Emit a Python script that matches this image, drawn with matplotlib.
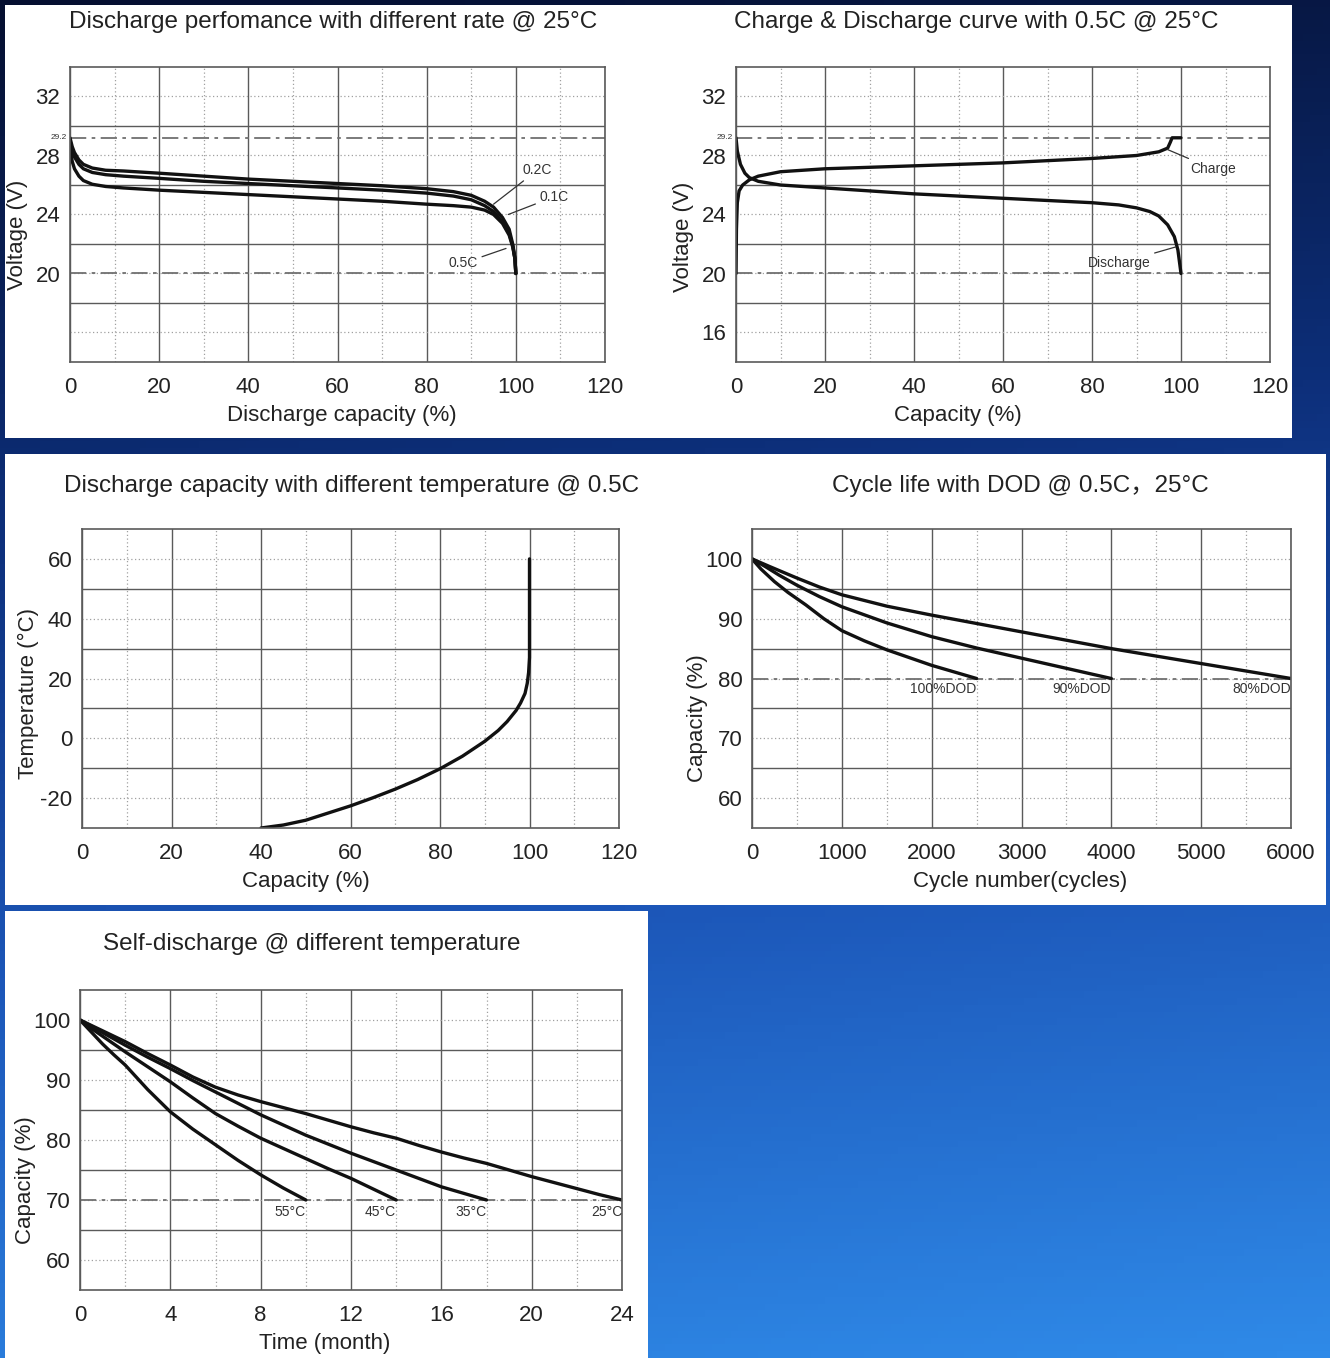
import numpy as np
import matplotlib.pyplot as plt
from matplotlib.patches import Rectangle
from matplotlib.colors import LinearSegmentedColormap

plt.rcParams['font.family'] = ['Liberation Sans', 'Noto Sans CJK SC', 'DejaVu Sans']
plt.rcParams['axes.unicode_minus'] = False

W, H = 1330, 1358

# --- discharge at different rates (capacity %, voltage V)
rate_cap = [0, 0.5, 1, 2, 3, 5, 8, 12, 20, 30, 40, 50, 60, 70, 80, 86, 90, 93, 95, 97, 98.5, 99.3, 99.8, 100]
v_02c = [29.2, 28.6, 28.2, 27.7, 27.4, 27.15, 27.0, 26.95, 26.8, 26.6, 26.4, 26.25, 26.1, 25.95, 25.75,
         25.55, 25.3, 24.9, 24.5, 23.8, 23.0, 22.0, 21.0, 20.0]
v_01c = [29.0, 28.3, 27.9, 27.4, 27.1, 26.85, 26.7, 26.6, 26.45, 26.25, 26.1, 25.95, 25.8, 25.65, 25.45,
         25.25, 25.0, 24.6, 24.2, 23.5, 22.7, 21.9, 21.0, 20.0]
v_05c = [28.6, 27.6, 27.1, 26.6, 26.3, 26.05, 25.9, 25.8, 25.65, 25.5, 25.35, 25.2, 25.05, 24.9, 24.7,
         24.6, 24.5, 24.3, 24.0, 23.4, 22.6, 21.8, 21.0, 20.0]

# --- charge / discharge at 0.5C
chg_cap = [0, 0.1, 0.3, 0.7, 1.5, 3, 5, 10, 20, 40, 60, 80, 90, 95, 97, 97.6, 98, 100]
chg_v = [20.0, 23.0, 24.8, 25.6, 26.0, 26.35, 26.6, 26.9, 27.1, 27.3, 27.5, 27.8, 28.0, 28.25, 28.5, 28.9, 29.2, 29.2]
dis_cap = [0, 0.3, 1, 2, 3, 5, 10, 20, 40, 60, 80, 86, 90, 93, 95, 97, 98.5, 99.3, 100]
dis_v = [29.2, 28.3, 27.4, 26.8, 26.5, 26.25, 26.0, 25.8, 25.4, 25.1, 24.8, 24.65, 24.45, 24.2, 23.9, 23.3, 22.5, 21.6, 20.0]

# --- capacity vs temperature
temp_cap = [40, 45, 50, 55, 60, 65, 70, 75, 80, 85, 90, 93, 95, 97, 98, 99, 99.5, 99.8, 100, 100]
temp_c = [-30, -29.0, -27.4, -25.0, -22.6, -19.9, -17.0, -13.8, -10.2, -6.0, -1.0, 2.6, 5.6, 9.3, 11.8, 15.0,
          18.4, 22.0, 27.0, 60.0]

# --- cycle life with DOD
cyc100 = [0, 100, 250, 400, 600, 800, 1000, 1250, 1500, 2000, 2500]
dod100 = [100, 98.3, 96.2, 94.4, 92.3, 90.0, 88.0, 86.3, 84.8, 82.2, 80.0]
cyc90 = [0, 150, 300, 500, 750, 1000, 1500, 2000, 2500, 3000, 3500, 4000]
dod90 = [100, 98.7, 97.3, 95.6, 93.7, 92.0, 89.3, 87.0, 85.1, 83.4, 81.7, 80.0]
cyc80 = [0, 200, 500, 750, 1000, 1500, 2000, 2500, 3000, 3500, 4000, 5000, 6000]
dod80 = [100, 98.7, 96.8, 95.3, 94.0, 92.1, 90.6, 89.2, 87.8, 86.4, 85.0, 82.5, 80.0]

# --- self discharge (month, capacity %)
m55 = [0, 0.5, 1, 1.5, 2, 3, 4, 5, 6, 7, 8, 9, 10]
sd55 = [100, 98.0, 96.0, 94.2, 92.5, 88.4, 84.7, 81.8, 79.2, 76.6, 74.2, 72.0, 70.0]
m45 = [0, 0.5, 1, 1.5, 2, 3, 4, 5, 6, 7, 8, 9, 10, 11, 12, 13, 14]
sd45 = [100, 98.6, 97.3, 96.0, 94.7, 92.2, 89.7, 87.0, 84.4, 82.3, 80.3, 78.6, 76.9, 75.2, 73.6, 71.8, 70.0]
m35 = [0, 1, 2, 3, 4, 5, 6, 7, 8, 9, 10, 11, 12, 13, 14, 15, 16, 17, 18]
sd35 = [100, 97.9, 95.8, 93.8, 91.9, 89.9, 88.0, 86.1, 84.2, 82.5, 80.8, 79.3, 77.8, 76.4, 75.0, 73.6, 72.2, 71.1, 70.0]
m25 = [0, 1, 2, 3, 4, 5, 6, 7, 8, 9, 10, 11, 12, 13, 14, 15, 16, 17, 18, 19, 20, 21, 22, 23, 24]
sd25 = [100, 98.2, 96.4, 94.4, 92.5, 90.5, 88.8, 87.5, 86.4, 85.4, 84.4, 83.3, 82.2, 81.2, 80.3, 79.1, 78.0,
        77.0, 76.1, 75.0, 73.9, 72.9, 71.9, 70.9, 70.0]

fig = plt.figure(figsize=(W / 100, H / 100), dpi=100)

# background + white cards
bg = fig.add_axes([0, 0, 1, 1])
yy, xx = np.mgrid[0:1:200j, 0:1:200j]
cmap = LinearSegmentedColormap.from_list('bg', [(0, '#050f30'), (0.35, '#0d2f7a'), (0.65, '#1c56b8'), (1, '#2f8ae8')])
bg.imshow(0.9 * yy + 0.1 * xx, cmap=cmap, extent=[0, W, H, 0], aspect='auto', vmin=0, vmax=1)
bg.set_xlim(0, W)
bg.set_ylim(H, 0)
bg.axis('off')
for x0, y0, x1, y1 in [(5, 5, 1292, 438), (5, 454, 1326, 905), (5, 911, 648, 1358)]:
    bg.add_patch(Rectangle((x0, y0), x1 - x0, y1 - y0, color='white', lw=0))

CURVE = dict(color='#111111', lw=2.4, solid_joinstyle='round', solid_capstyle='round')
DASHDOT = dict(color='#707070', lw=1.3, ls=(0, (9, 3, 2, 3)))


def panel(box, title, tpos, xlab, xlpos, ylab, ylpos):
    x0, y0, x1, y1 = box
    ax = fig.add_axes([x0 / W, 1 - y1 / H, (x1 - x0) / W, (y1 - y0) / H])
    fig.text(tpos[0] / W, 1 - tpos[1] / H, title, ha='center', va='center', fontsize=17.5, color='#222')
    ax.set_xlabel(xlab, fontsize=16, color='#222', va='center')
    ax.xaxis.set_label_coords((xlpos[0] - x0) / (x1 - x0), -(xlpos[1] - y1) / (y1 - y0))
    ax.set_ylabel(ylab, fontsize=16, color='#222', va='center')
    ax.yaxis.set_label_coords(-(x0 - ylpos[0]) / (x1 - x0), (y1 - ylpos[1]) / (y1 - y0))
    return ax


def style(ax, xlim, ylim, xmaj, xmin, ymaj, ymin, ylabels=None):
    ax.set_xlim(*xlim)
    ax.set_ylim(*ylim)
    ax.set_xticks(xmaj)
    ax.set_xticks(xmin, minor=True)
    ax.set_yticks(ymaj)
    if ylabels is not None:
        ax.set_yticklabels(ylabels)
    ax.set_yticks(ymin, minor=True)
    ax.grid(which='major', axis='x', color='#5a5a5a', lw=1.0, ls='-')
    ax.grid(which='minor', axis='x', color='#a0a0a0', lw=0.9, ls=(0, (1, 2)))
    ax.grid(which='major', axis='y', color='#a0a0a0', lw=0.9, ls=(0, (1, 2)))
    ax.grid(which='minor', axis='y', color='#5a5a5a', lw=1.0, ls='-')
    ax.tick_params(which='both', length=0, labelsize=16, labelcolor='#222')
    ax.tick_params(axis='x', pad=11)
    ax.tick_params(axis='y', pad=7)
    for s in ax.spines.values():
        s.set_color('#5a5a5a')
        s.set_linewidth(1.2)
    ax.set_axisbelow(True)


def leader(ax, label, xy, xytext, ha='left'):
    ax.annotate(label, xy=xy, xytext=xytext, ha=ha, va='center', fontsize=10, color='#333',
                arrowprops=dict(arrowstyle='-', lw=0.9, color='#333', shrinkA=1, shrinkB=0))


# 1. discharge with rates
ax1 = panel((70, 67, 605, 362), 'Discharge perfomance with different rate @ 25°C', (333, 22),
            'Discharge capacity (%)', (342, 416), 'Voltage (V)', (18, 235))
style(ax1, (0, 120), (14, 34), range(0, 121, 20), range(10, 120, 20), [16, 20, 24, 28, 32], [18, 22, 26, 30],
      ['', '20', '24', '28', '32'])
ax1.axhline(29.2, **DASHDOT)
ax1.axhline(20, **DASHDOT)
ax1.plot(rate_cap, v_02c, **CURVE)
ax1.plot(rate_cap, v_01c, **CURVE)
ax1.plot(rate_cap, v_05c, **CURVE)
ax1.text(-0.8, 29.2, '29.2', ha='right', va='center', fontsize=6, color='#333')
leader(ax1, '0.2C', (rate_cap[18], v_02c[18] + 0.2), (101.5, 27.0))
leader(ax1, '0.1C', (rate_cap[19] + 1.3, v_01c[19] + 0.5), (105.3, 25.2))
leader(ax1, '0.5C', (rate_cap[21] - 1.5, v_05c[21] - 0.1), (91.5, 20.7), ha='right')

# 2. charge / discharge
ax2 = panel((736, 67, 1270, 362), 'Charge & Discharge curve with 0.5C @ 25°C', (976, 22),
            'Capacity (%)', (958, 416), 'Voltage (V)', (683, 237))
style(ax2, (0, 120), (14, 34), range(0, 121, 20), range(10, 120, 20), [16, 20, 24, 28, 32], [18, 22, 26, 30])
ax2.axhline(29.2, **DASHDOT)
ax2.axhline(20, **DASHDOT)
ax2.plot(chg_cap, chg_v, **CURVE)
ax2.plot(dis_cap, dis_v, **CURVE)
ax2.text(-0.8, 29.2, '29.2', ha='right', va='center', fontsize=6, color='#333')
leader(ax2, 'Charge', (chg_cap[14], chg_v[14] - 0.1), (102, 27.1))
leader(ax2, 'Discharge', (dis_cap[17] - 0.5, dis_v[17] + 0.2), (93.2, 20.7), ha='right')

# 3. capacity vs temperature
ax3 = panel((82, 529, 619, 828), 'Discharge capacity with different temperature @ 0.5C', (352, 486),
            'Capacity (%)', (306, 881), 'Temperature (°C)', (28, 693))
style(ax3, (0, 120), (-30, 70), range(0, 121, 20), range(10, 120, 20), [-20, 0, 20, 40, 60], [-10, 10, 30, 50])
ax3.plot(temp_cap, temp_c, **CURVE)

# 4. cycle life
ax4 = panel((752, 529, 1291, 828), 'Cycle life with DOD @ 0.5C，25°C', (1020, 486),
            'Cycle number(cycles)', (1020, 881), 'Capacity (%)', (698, 718))
style(ax4, (0, 6000), (55, 105), range(0, 6001, 1000), range(500, 6000, 1000), range(60, 101, 10),
      range(65, 100, 10))
ax4.axhline(80, **DASHDOT)
for lab, cx, cy in [('100%DOD', cyc100, dod100), ('90%DOD', cyc90, dod90), ('80%DOD', cyc80, dod80)]:
    ax4.plot(cx, cy, **CURVE)
    ax4.text(cx[-1], 78.2, lab, ha='right', va='center', fontsize=10, color='#333')

# 5. self discharge
ax5 = panel((80, 990, 622, 1290), 'Self-discharge @ different temperature', (312, 944),
            'Time (month)', (325, 1343), 'Capacity (%)', (25, 1180))
style(ax5, (0, 24), (55, 105), range(0, 25, 4), range(2, 24, 4), range(60, 101, 10), range(65, 100, 10))
ax5.axhline(70, **DASHDOT)
for lab, mx, sd in [('55°C', m55, sd55), ('45°C', m45, sd45), ('35°C', m35, sd35), ('25°C', m25, sd25)]:
    ax5.plot(mx, sd, **CURVE)
    ax5.text(mx[-1], 68.0, lab, ha='right', va='center', fontsize=10, color='#333')

fig.savefig('out.png', dpi=100)
